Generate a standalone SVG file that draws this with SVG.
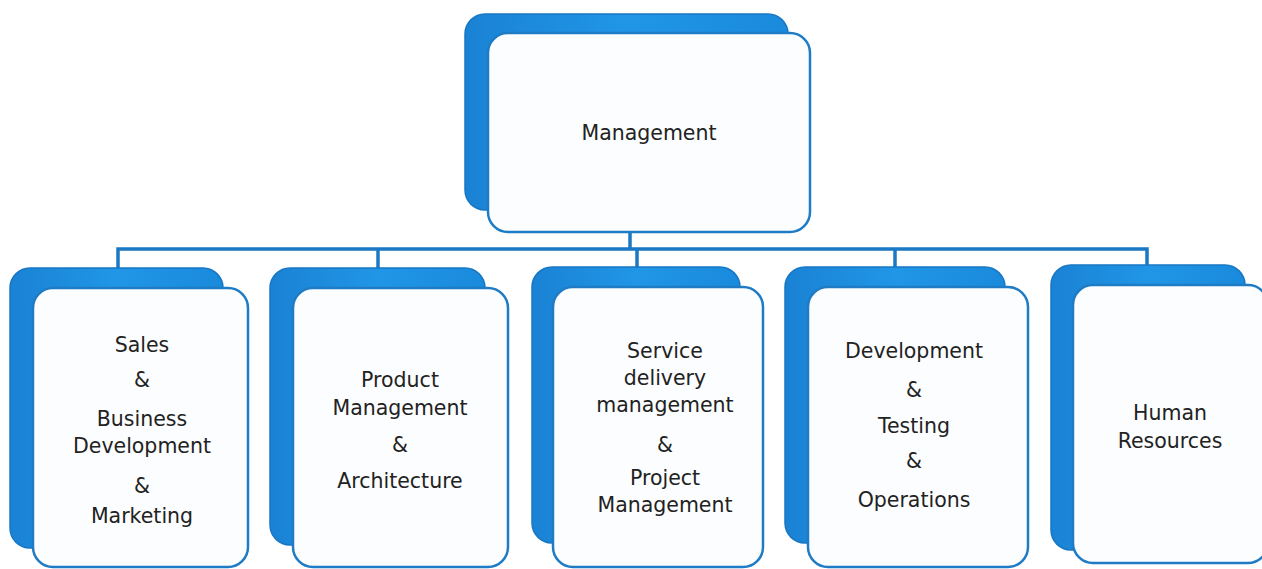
<svg xmlns="http://www.w3.org/2000/svg" width="1262" height="569" viewBox="0 0 1262 569">
<defs>
<linearGradient id="bg" x1="0" y1="0" x2="1" y2="0">
<stop offset="0" stop-color="#1a82d4"/>
<stop offset="0.5" stop-color="#2196e6"/>
<stop offset="1" stop-color="#1a8adc"/>
</linearGradient>
<style>
.back{fill:url(#bg);stroke:#1877c4;stroke-width:1.5}
.front{fill:#fcfdfe;stroke:#1f7cc4;stroke-width:2.5}
.t{font-family:"DejaVu Sans","Verdana",sans-serif;font-size:20.5px;fill:#222;text-anchor:middle}
.c{fill:none;stroke:#1a78c4;stroke-width:3.5}
</style>
</defs>
<rect width="1262" height="569" fill="#ffffff"/>
<g id="connectors">
<path class="c" d="M630 232 V248"/>
<path class="c" d="M118 268 V249 H1147 V265"/>
<path class="c" d="M378 249 V268"/>
<path class="c" d="M637 249 V267"/>
<path class="c" d="M895 249 V267"/>
</g>
<g id="management">
<rect class="back" x="465" y="14" width="323" height="196" rx="20"/>
<rect class="front" x="488" y="33" width="322" height="199" rx="20"/>
<text class="t" x="649" y="140">Management</text>
</g>
<g id="sales">
<rect class="back" x="10" y="268" width="213" height="280" rx="20"/>
<rect class="front" x="33" y="288" width="215" height="279" rx="20"/>
<text class="t" x="142" y="352">Sales</text>
<text class="t" x="142" y="387">&amp;</text>
<text class="t" x="142" y="426">Business</text>
<text class="t" x="142" y="453">Development</text>
<text class="t" x="142" y="493">&amp;</text>
<text class="t" x="142" y="523">Marketing</text>
</g>
<g id="product">
<rect class="back" x="270" y="268" width="215" height="277" rx="20"/>
<rect class="front" x="293" y="288" width="215" height="279" rx="20"/>
<text class="t" x="400" y="387">Product</text>
<text class="t" x="400" y="415">Management</text>
<text class="t" x="400" y="452">&amp;</text>
<text class="t" x="400" y="488">Architecture</text>
</g>
<g id="service">
<rect class="back" x="532" y="267" width="208" height="276" rx="20"/>
<rect class="front" x="553" y="287" width="210" height="280" rx="20"/>
<text class="t" x="665" y="358">Service</text>
<text class="t" x="665" y="385">delivery</text>
<text class="t" x="665" y="412">management</text>
<text class="t" x="665" y="452">&amp;</text>
<text class="t" x="665" y="485">Project</text>
<text class="t" x="665" y="512">Management</text>
</g>
<g id="development">
<rect class="back" x="785" y="267" width="220" height="276" rx="20"/>
<rect class="front" x="808" y="287" width="220" height="280" rx="20"/>
<text class="t" x="914" y="358">Development</text>
<text class="t" x="914" y="397">&amp;</text>
<text class="t" x="914" y="433">Testing</text>
<text class="t" x="914" y="468">&amp;</text>
<text class="t" x="914" y="507">Operations</text>
</g>
<g id="hr">
<rect class="back" x="1051" y="265" width="194" height="285" rx="20"/>
<rect class="front" x="1073" y="285" width="195" height="278" rx="20"/>
<text class="t" x="1170" y="420">Human</text>
<text class="t" x="1170" y="448">Resources</text>
</g>
</svg>
